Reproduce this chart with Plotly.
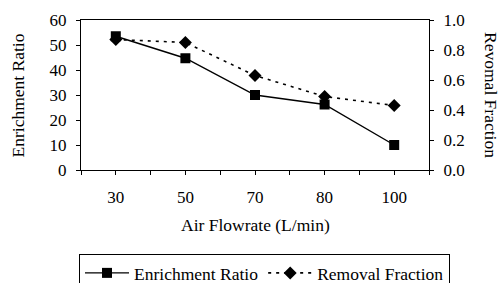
import plotly.graph_objects as go

categories = ["30", "50", "70", "80", "100"]
enrichment_ratio = [53.5, 44.7, 30.0, 26.2, 10.0]
removal_fraction = [0.87, 0.85, 0.63, 0.49, 0.43]

left_ticks = [0, 10, 20, 30, 40, 50, 60]
right_ticks = [0.0, 0.2, 0.4, 0.6, 0.8, 1.0]
right_labels = ["0.0", "0.2", "0.4", "0.6", "0.8", "1.0"]

FONT = "Liberation Serif"
xpos = list(range(len(categories)))
half_steps = [i / 2 - 0.5 for i in range(2 * len(categories) + 1)]
half_text = [categories[int(v)] if float(v).is_integer() else "" for v in half_steps]

fig = go.Figure()
fig.add_trace(go.Scatter(
    x=xpos, y=removal_fraction, name="Removal Fraction", yaxis="y",
    mode="lines+markers", legendrank=2,
    line=dict(color="black", width=1.6, dash="3px,5px"),
    marker=dict(symbol="diamond", size=10, color="black"),
))
fig.add_trace(go.Scatter(
    x=xpos, y=enrichment_ratio, name="Enrichment Ratio", yaxis="y2",
    mode="lines+markers", legendrank=1,
    line=dict(color="black", width=1.4),
    marker=dict(symbol="square", size=10, color="black"),
))

axis_common = dict(showgrid=False, zeroline=False, linecolor="black", linewidth=1.2,
                   tickcolor="black", ticklen=4, tickwidth=1,
                   tickfont=dict(family=FONT, size=17, color="black"))

fig.update_layout(
    width=501, height=283,
    margin=dict(l=81, r=72, t=20, b=113, autoexpand=False),
    paper_bgcolor="white", plot_bgcolor="white",
    font=dict(family=FONT, size=17, color="black"),
    xaxis=dict(range=[-0.5, len(categories) - 0.5], tickmode="array",
               tickvals=half_steps, ticktext=half_text, ticks="outside",
               showline=True, mirror=True, ticklabelstandoff=7, **axis_common),
    xaxis3=dict(range=[-0.5, len(categories) - 0.5], overlaying="x", tickmode="array",
                tickvals=half_steps, ticks="inside", showticklabels=False,
                showline=False, **axis_common),
    yaxis=dict(range=[0, 1.0], side="right", tickmode="array", tickvals=right_ticks,
               ticktext=right_labels, ticks="outside", showline=True,
               ticklabelstandoff=6, **axis_common),
    yaxis2=dict(range=[0, 60], side="left", overlaying="y", tickmode="array",
                tickvals=left_ticks, ticks="outside", showline=True,
                ticklabelstandoff=6, **axis_common),
    yaxis3=dict(range=[0, 60], side="left", overlaying="y", tickmode="array",
                tickvals=left_ticks, ticks="inside", showticklabels=False,
                showline=False, **axis_common),
    yaxis4=dict(range=[0, 1.0], side="right", overlaying="y", tickmode="array",
                tickvals=right_ticks, ticks="inside", showticklabels=False,
                showline=False, **axis_common),
    legend=dict(orientation="h", xref="paper", yref="paper",
                x=-0.00575, xanchor="left", y=-0.56, yanchor="top",
                bordercolor="black", borderwidth=1, bgcolor="white",
                font=dict(family=FONT, size=17.5, color="black"), itemwidth=44,
                tracegroupgap=0),
    showlegend=True,
    annotations=[
        dict(text="Air Flowrate (L/min)", xref="paper", yref="paper", x=0.5, y=-0.367,
             xanchor="center", yanchor="middle", showarrow=False,
             font=dict(family=FONT, size=17.5, color="black")),
        dict(text="Enrichment Ratio", xref="paper", yref="paper", x=-0.1796, y=0.5,
             xanchor="center", yanchor="middle", textangle=-90, showarrow=False,
             font=dict(family=FONT, size=17.5, color="black")),
        dict(text="Revomal Fraction", xref="paper", yref="paper", x=1.178, y=0.5,
             xanchor="center", yanchor="middle", textangle=90, showarrow=False,
             font=dict(family=FONT, size=17.5, color="black")),
    ],
)

fig.write_html("out.html", config={"displayModeBar": False},
               post_script="document.body.style.margin='0';document.body.style.overflow='hidden';")
